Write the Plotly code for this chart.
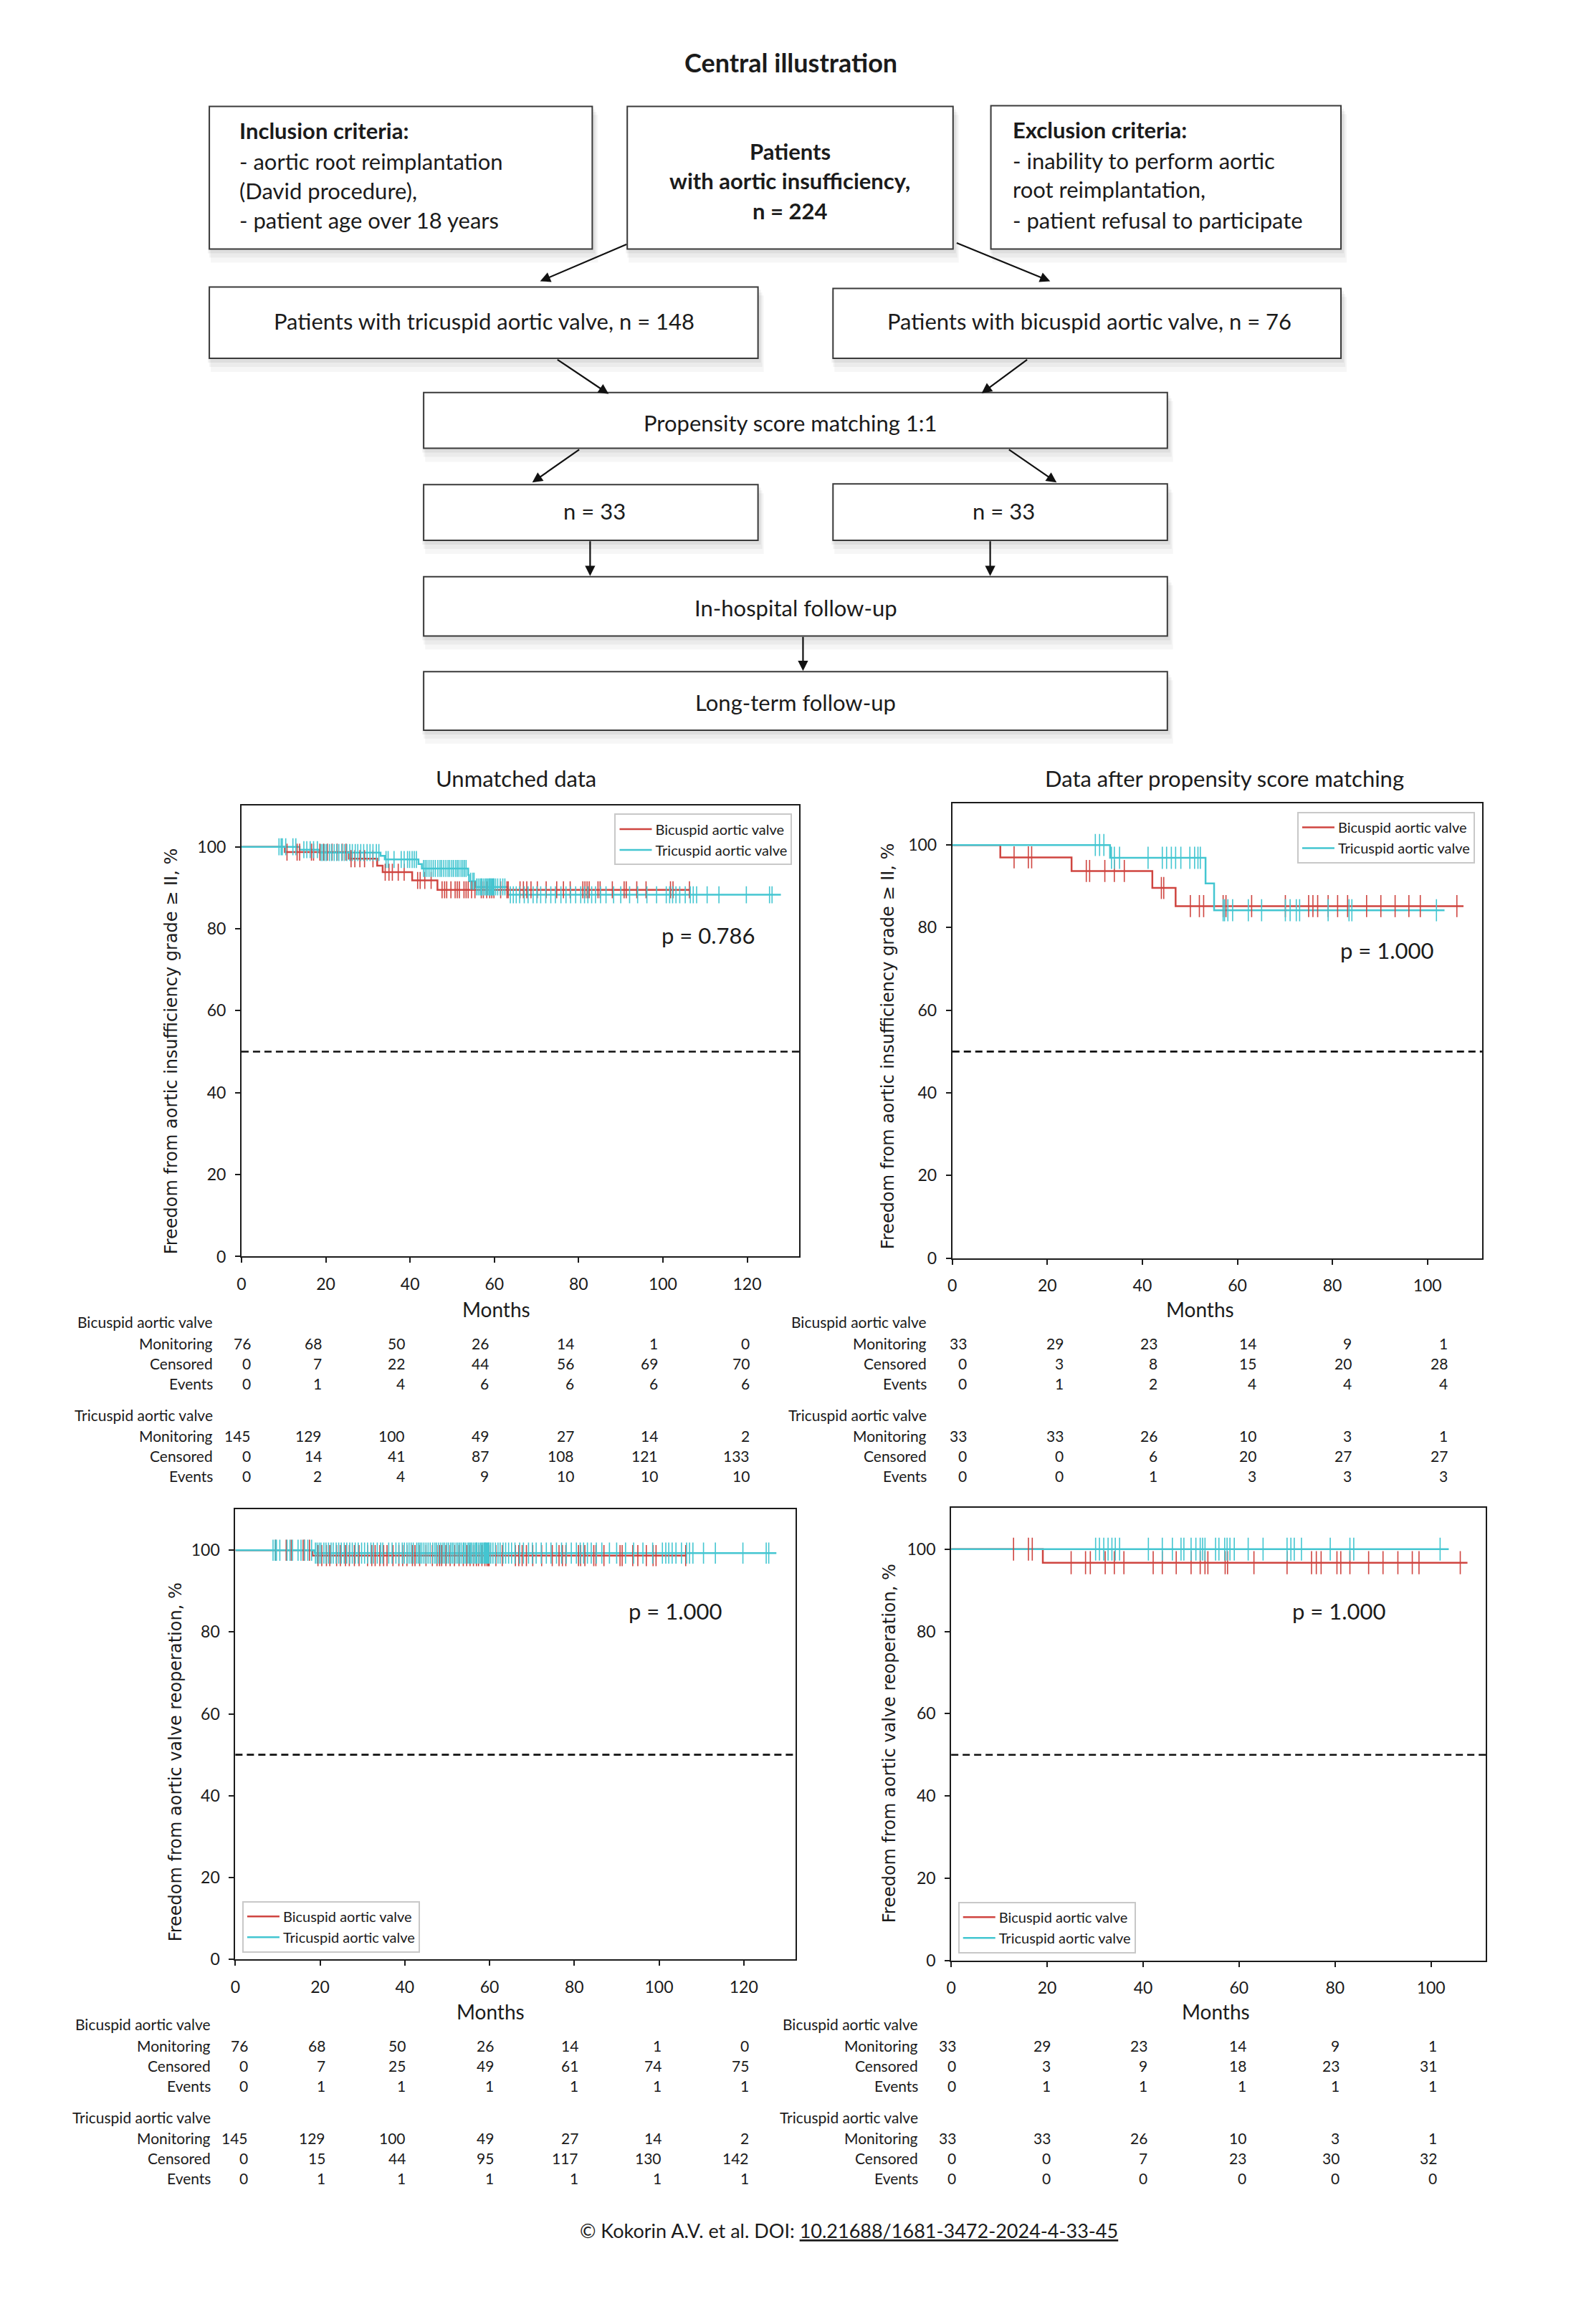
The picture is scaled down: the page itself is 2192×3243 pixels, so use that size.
import plotly.graph_objects as go

W, H = 2192, 3243
RED = "#cf4540"
CYAN = "#44c6d1"
INK = "#1b1b1b"
FONT = "Lato"
YFONT = "DejaVu Sans"

# ---------------- DATA ----------------
GROUPS = ["Bicuspid aortic valve", "Tricuspid aortic valve"]
ROW_LABELS = ["Monitoring", "Censored", "Events"]
Y_TICKS = [0, 20, 40, 60, 80, 100]
TICKS_UNMATCHED = [0, 20, 40, 60, 80, 100, 120]
TICKS_MATCHED = [0, 20, 40, 60, 80, 100]

# Panel A: unmatched, freedom from AI >= II
A_bic_times = [0, 10.3, 25.5, 32.2, 33.5, 40.5, 46.5]
A_bic_levels = [100, 98.7, 97.1, 95.4, 93.8, 91.8, 89.5]
A_bic_end = 106.5
A_bic_cens = [10.8, 13.2, 13.8, 16.6, 17.1, 18.6, 19.5,
              20.4, 21.5, 22.7, 23.9, 24.8, 26.0, 26.9, 28.1, 29.2, 31.2, 34.1, 35.0, 35.8, 37.2, 38.6,
              41.8, 42.4, 43.5, 45.0, 47.6, 48.2, 48.7, 49.7, 50.7, 51.2, 51.7, 52.8, 53.3, 53.8, 54.6,
              55.4, 56.9, 57.4, 58.2, 58.9, 59.4, 59.9,
              61.5, 63.0, 63.3, 66.1, 66.9, 67.7, 68.7, 70.2, 72.3, 74.8, 76.4, 78.0,
              81.0, 81.5, 82.0, 82.5, 84.6, 85.1, 88.0, 90.8, 91.3, 93.8, 96.0, 101.8, 102.4,
              106.3]
A_tri_times = [0, 13.8, 18.5, 33.0, 34.0, 42.0, 42.8, 53.8, 54.0, 55.5, 63.2]
A_tri_levels = [100, 99.3, 98.6, 97.8, 96.9, 95.8, 94.7, 93.1, 91.6, 90.2, 88.3]
A_tri_end = 128.0
A_tri_cens = [8.9, 9.4, 9.7, 10.5, 12.2, 12.9, 14.8, 15.5, 16.3, 17.1, 18.0, 18.9, 19.3, 19.8,
              20.2, 20.9, 21.4, 22.0, 22.6, 23.1, 23.8, 24.4, 25.0, 25.7, 26.3, 27.0, 27.6, 28.3,
              29.0, 29.8, 30.5, 31.2, 32.0, 32.6, 34.3, 34.8, 36.2, 37.9, 38.6, 39.4, 39.9,
              40.5, 41.0, 41.5, 43.2, 43.6, 44.0, 44.5, 45.0, 45.5, 46.0,
              46.6, 47.1, 47.5, 48.0, 48.5, 49.0, 49.4, 49.9, 50.3, 50.8,
              51.2, 51.6, 52.1, 52.5, 52.9, 53.3, 54.4, 54.9, 55.2, 55.8,
              56.2, 56.6, 56.9, 57.0, 57.4, 57.8, 58.1, 58.4, 58.7, 58.9,
              59.0, 59.2, 59.4, 59.6, 59.8, 59.9,
              60.3, 60.8, 61.4, 62.0, 62.5, 63.8, 64.5, 65.2, 66.0, 67.1, 68.0, 69.2, 70.1, 71.0,
              72.2, 73.4, 74.5, 75.8, 77.0, 78.1, 79.3,
              80.5, 81.4, 82.2, 83.1, 84.0, 85.2, 86.5, 88.3, 90.0, 92.1, 94.0, 96.2, 98.5,
              100.8, 101.6, 102.3, 103.1, 104.0, 105.3, 106.5, 107.2, 108.0, 110.5, 113.3, 119.8,
              125.3, 125.9]

# Panel B: matched, freedom from AI >= II
B_bic_times = [0, 10.1, 25.1, 42.1, 47.0]
B_bic_levels = [100, 97.0, 93.7, 89.6, 85.2]
B_bic_end = 107.6
B_bic_cens = [13.0, 16.0, 16.7, 28.2, 28.9, 32.1, 34.1, 36.2, 44.0, 44.5, 50.1, 52.0, 52.9,
              57.0, 57.6, 63.0, 70.1, 75.0, 75.9, 76.9, 79.1, 81.1, 83.2, 87.2, 90.2, 93.2,
              96.1, 98.5, 106.2]
B_tri_times = [0, 33.2, 53.3, 55.1]
B_tri_levels = [100, 96.9, 90.7, 84.2]
B_tri_end = 103.6
B_tri_cens = [30.1, 31.0, 31.9, 33.5, 34.1, 35.2, 41.2, 44.2, 45.1, 46.1, 47.0, 48.1, 50.0,
              51.0, 51.7, 52.2, 57.0, 57.3, 58.0, 59.0, 62.3, 65.1, 70.1, 71.1, 72.4, 73.1,
              79.1, 83.5, 84.1, 101.9]

# Panel C: unmatched, freedom from reoperation
C_bic_times = [0, 18.2]
C_bic_levels = [100, 98.7]
C_bic_end = 106.5
C_bic_cens = [9.5, 12.0, 13.2, 16.0, 16.3, 17.5, 19.5,
              20.4, 21.5, 22.3, 23.9, 24.8, 26.0, 26.9, 28.1, 29.2, 31.2, 32.2, 33.0, 34.1, 35.0,
              35.8, 37.2, 38.6, 39.5,
              40.5, 41.8, 42.4, 43.5, 45.0, 46.5, 47.6, 48.2, 48.7, 49.7, 50.7, 51.7, 52.8, 53.8,
              54.6, 55.4, 56.2, 56.9, 57.4, 58.2, 58.9, 59.4, 59.7, 59.9,
              61.5, 63.0, 66.1, 66.9, 67.7, 68.7, 70.2, 72.3, 74.8, 76.4, 77.2, 78.0,
              81.0, 81.5, 82.5, 84.6, 85.1, 87.0, 90.8, 91.3, 93.8, 95.0, 97.0, 98.6, 99.3,
              106.3]
C_tri_times = [0, 18.7]
C_tri_levels = [100, 99.3]
C_tri_end = 127.7
C_tri_cens = [8.9, 9.4, 9.7, 10.5, 12.2, 12.9, 13.5, 14.8, 15.5, 16.3, 17.1, 18.0, 18.9, 19.3, 19.8,
              20.2, 20.9, 21.4, 22.0, 22.6, 23.1, 23.8, 24.4, 25.0, 25.7, 26.3, 27.0, 27.6, 28.3,
              29.0, 29.8, 30.5, 31.2, 32.0, 32.6, 33.5, 34.3, 34.8, 36.2, 37.0, 37.9, 38.6, 39.4, 39.9,
              40.5, 41.0, 41.5, 42.0, 42.8, 43.2, 43.6, 44.0, 44.5, 45.0,
              45.5, 46.0, 46.6, 47.1, 47.5, 48.0, 48.5, 49.0, 49.4, 49.9,
              50.3, 50.8, 51.2, 51.6, 52.1, 52.5, 52.9, 53.3, 53.8, 54.0,
              54.4, 54.9, 55.2, 55.5, 55.8, 56.2, 56.6, 56.9, 57.0, 57.4,
              57.8, 58.1, 58.4, 58.7, 58.9, 59.0, 59.2, 59.4, 59.6, 59.8, 59.9,
              60.3, 60.8, 61.4, 62.0, 62.5, 63.2, 63.8, 64.5, 65.2, 66.0, 67.1, 68.0, 69.2, 70.1,
              71.0, 72.2, 73.4, 74.5, 75.8, 77.0, 78.1, 79.3,
              80.5, 81.4, 82.2, 83.1, 84.0, 85.2, 86.5, 88.3, 90.0, 92.1, 94.0, 96.2, 98.5,
              100.8, 101.6, 102.3, 103.1, 104.0, 105.3, 106.5, 107.2, 108.0, 110.5, 113.3, 119.8,
              125.3, 125.9]

# Panel D: matched, freedom from reoperation
D_bic_times = [0, 19.1]
D_bic_levels = [100, 96.7]
D_bic_end = 107.6
D_bic_cens = [13.0, 16.1, 16.9, 25.0, 28.0, 29.0, 32.1, 34.0, 36.0, 42.1, 44.0, 46.9, 50.0,
              51.9, 52.9, 53.5, 57.1, 57.6, 63.1, 70.0, 75.1, 76.1, 77.1, 80.4, 81.2, 83.1,
              87.0, 90.0, 93.1, 96.1, 97.5, 106.1]
D_tri_times = [0]
D_tri_levels = [100]
D_tri_end = 103.7
D_tri_cens = [30.1, 30.9, 31.8, 32.7, 33.5, 34.2, 35.1, 41.1, 44.0, 46.1, 47.9, 48.5, 50.0,
              51.0, 51.9, 52.4, 52.9, 55.1, 55.8, 57.0, 57.5, 58.1, 59.0, 61.9, 65.0, 70.0,
              70.8, 71.5, 73.0, 79.0, 83.1, 83.9, 101.9]

# Number-at-risk tables
A_bic_monitoring = [76, 68, 50, 26, 14, 1, 0]
A_bic_censored = [0, 7, 22, 44, 56, 69, 70]
A_bic_events = [0, 1, 4, 6, 6, 6, 6]
A_tri_monitoring = [145, 129, 100, 49, 27, 14, 2]
A_tri_censored = [0, 14, 41, 87, 108, 121, 133]
A_tri_events = [0, 2, 4, 9, 10, 10, 10]

B_bic_monitoring = [33, 29, 23, 14, 9, 1]
B_bic_censored = [0, 3, 8, 15, 20, 28]
B_bic_events = [0, 1, 2, 4, 4, 4]
B_tri_monitoring = [33, 33, 26, 10, 3, 1]
B_tri_censored = [0, 0, 6, 20, 27, 27]
B_tri_events = [0, 0, 1, 3, 3, 3]

C_bic_monitoring = [76, 68, 50, 26, 14, 1, 0]
C_bic_censored = [0, 7, 25, 49, 61, 74, 75]
C_bic_events = [0, 1, 1, 1, 1, 1, 1]
C_tri_monitoring = [145, 129, 100, 49, 27, 14, 2]
C_tri_censored = [0, 15, 44, 95, 117, 130, 142]
C_tri_events = [0, 1, 1, 1, 1, 1, 1]

D_bic_monitoring = [33, 29, 23, 14, 9, 1]
D_bic_censored = [0, 3, 9, 18, 23, 31]
D_bic_events = [0, 1, 1, 1, 1, 1]
D_tri_monitoring = [33, 33, 26, 10, 3, 1]
D_tri_censored = [0, 0, 7, 23, 30, 32]
D_tri_events = [0, 0, 0, 0, 0, 0]

P_VALUES = ["p = 0.786", "p = 1.000", "p = 1.000", "p = 1.000"]
PANEL_TITLES = ["Unmatched data", "Data after propensity score matching"]
Y_TITLES = ["Freedom from aortic insufficiency grade ≥ II, %",
            "Freedom from aortic insufficiency grade ≥ II, %",
            "Freedom from aortic valve reoperation, %",
            "Freedom from aortic valve reoperation, %"]


# ---------------- HELPERS ----------------
def px(x):
    return x / W


def py(y):
    return 1 - y / H


def level_at(times, levels, t):
    lv = levels[0]
    for ti, li in zip(times, levels):
        if t >= ti:
            lv = li
    return lv


fig = go.Figure()
shapes = []
ann = []


def add_text(x, y, text, size, xanchor="center", family=FONT, color=INK, yanchor="middle", **kw):
    ann.append(dict(x=px(x), y=py(y), xref="paper", yref="paper", text=text, showarrow=False,
                    xanchor=xanchor, yanchor=yanchor,
                    font=dict(family=family, size=size, color=color), **kw))


# ---------------- FLOWCHART ----------------
def add_box(b):
    x0, y0, x1, y1 = b
    for (a, b0, c, d, alpha) in [(-2, 4, 4, 6, 0.05), (0, 8, 6, 12, 0.045), (2, 12, 8, 19, 0.035)]:
        shapes.append(dict(type="rect", xref="paper", yref="paper",
                           x0=px(x0 + a), x1=px(x1 + c), y0=py(y0 + b0), y1=py(y1 + d),
                           fillcolor=f"rgba(0,0,0,{alpha})", line=dict(width=0), layer="below"))
    shapes.append(dict(type="rect", xref="paper", yref="paper",
                       x0=px(x0), x1=px(x1), y0=py(y0), y1=py(y1),
                       fillcolor="white", line=dict(color="#3a3a3a", width=2)))


def add_arrow(x0, y0, x1, y1):
    ann.append(dict(x=px(x1), y=py(y1), xref="paper", yref="paper", ax=x0 - x1, ay=y0 - y1,
                    axref="pixel", ayref="pixel", showarrow=True, arrowhead=2, arrowsize=1.3,
                    arrowwidth=2.2, arrowcolor="#111", text="", standoff=0))


boxes = [(286, 149, 822, 349), (871, 149, 1327, 349), (1380, 148, 1870, 349),
         (286, 402, 1054, 502), (1159, 404, 1870, 502), (586, 550, 1627, 628),
         (586, 679, 1054, 757), (1159, 678, 1627, 757), (586, 808, 1627, 891),
         (586, 941, 1627, 1023)]
for b in boxes:
    add_box(b)

for a in [(871, 342, 749, 394), (1331, 340, 1463, 394), (772, 503, 845, 552),
          (1432, 503, 1367, 551), (805, 629, 738, 676), (1404, 629, 1472, 676),
          (819, 757, 819, 807), (1379, 757, 1379, 807), (1117, 891, 1117, 940)]:
    add_arrow(*a)

add_text(1100, 87, "<b>Central illustration</b>", 36)
BT = 31
add_text(326, 183, "<b>Inclusion criteria:</b>", BT, xanchor="left")
add_text(326, 226, "- aortic root reimplantation", BT, xanchor="left")
add_text(326, 267, "(David procedure),", BT, xanchor="left")
add_text(326, 308, "- patient age over 18 years", BT, xanchor="left")
add_text(1099, 212, "<b>Patients</b>", BT)
add_text(1099, 253, "<b>with aortic insufficiency,</b>", BT)
add_text(1099, 295, "<b>n = 224</b>", BT)
add_text(1408, 182, "<b>Exclusion criteria:</b>", BT, xanchor="left")
add_text(1408, 225, "- inability to perform aortic", BT, xanchor="left")
add_text(1408, 265, "root reimplantation,", BT, xanchor="left")
add_text(1408, 308, "- patient refusal to participate", BT, xanchor="left")
add_text(671, 450, "Patients with tricuspid aortic valve, n = 148", BT)
add_text(1518, 450, "Patients with bicuspid aortic valve, n = 76", BT)
add_text(1100, 592, "Propensity score matching 1:1", BT)
add_text(825, 716, "n = 33", BT)
add_text(1398, 716, "n = 33", BT)
add_text(1107, 851, "In-hospital follow-up", BT)
add_text(1107, 984, "Long-term follow-up", BT)

# ---------------- KM PANELS ----------------
panels = [
    dict(box=(331, 1129, 1112, 1760.5), xmax=132.4, xt=TICKS_UNMATCHED,
         bic=(A_bic_times, A_bic_levels, A_bic_end, A_bic_cens),
         tri=(A_tri_times, A_tri_levels, A_tri_end, A_tri_cens), tsize=17,
         title=PANEL_TITLES[0], title_xy=(715, 1090), ytitle_xy=(233, 1473),
         months_xy=(688, 1834), p_xy=(110.8, 78.4),
         legend=dict(x=px(1102), y=py(1140), xanchor="right", yanchor="top"),
         risk=((A_bic_monitoring, A_bic_censored, A_bic_events),
               (A_tri_monitoring, A_tri_censored, A_tri_events)),
         label_x=293, ty0=1852, shifts=[15, -4, -5, -6, -4, -5, 5]),
    dict(box=(1326, 1126, 2067.5, 1762.6), xmax=111.5, xt=TICKS_MATCHED,
         bic=(B_bic_times, B_bic_levels, B_bic_end, B_bic_cens),
         tri=(B_tri_times, B_tri_levels, B_tri_end, B_tri_cens), tsize=22,
         title=PANEL_TITLES[1], title_xy=(1707, 1090), ytitle_xy=(1236, 1466),
         months_xy=(1673, 1834), p_xy=(91.4, 74.5),
         legend=dict(x=px(2057.5), y=py(1137.6), xanchor="right", yanchor="top"),
         risk=((B_bic_monitoring, B_bic_censored, B_bic_events),
               (B_tri_monitoring, B_tri_censored, B_tri_events)),
         label_x=1292, ty0=1852, shifts=[22, 25, 23, 28, 29, 30]),
    dict(box=(322.4, 2114.7, 1107, 2745), xmax=132.3, xt=TICKS_UNMATCHED,
         bic=(C_bic_times, C_bic_levels, C_bic_end, C_bic_cens),
         tri=(C_tri_times, C_tri_levels, C_tri_end, C_tri_cens), tsize=21,
         title=None, title_xy=None, ytitle_xy=(239, 2469),
         months_xy=(680, 2818), p_xy=(103.8, 85.2),
         legend=dict(x=px(332), y=py(2735.6), xanchor="left", yanchor="bottom"),
         risk=((C_bic_monitoring, C_bic_censored, C_bic_events),
               (C_tri_monitoring, C_tri_censored, C_tri_events)),
         label_x=290, ty0=2836, shifts=[20, 9, 3, 8, 8, 5, 9]),
    dict(box=(1324.4, 2112.8, 2072.6, 2746.8), xmax=111.4, xt=TICKS_MATCHED,
         bic=(D_bic_times, D_bic_levels, D_bic_end, D_bic_cens),
         tri=(D_tri_times, D_tri_levels, D_tri_end, D_tri_cens), tsize=23,
         title=None, title_xy=None, ytitle_xy=(1238, 2443),
         months_xy=(1695, 2818), p_xy=(80.8, 85.0),
         legend=dict(x=px(1334), y=py(2736.6), xanchor="left", yanchor="bottom"),
         risk=((D_bic_monitoring, D_bic_censored, D_bic_events),
               (D_tri_monitoring, D_tri_censored, D_tri_events)),
         label_x=1280, ty0=2836, shifts=[9, 7, 8, 12, 8, 10]),
]

layout_axes = {}
for i, p in enumerate(panels):
    n = "" if i == 0 else str(i + 1)
    xa, ya = "x" + n, "y" + n
    lg = "legend" + n
    x0, y0, x1, y1 = p["box"]
    for (times, levels, end, cens), name, col in [(p["bic"], GROUPS[0], RED), (p["tri"], GROUPS[1], CYAN)]:
        fig.add_trace(go.Scatter(x=list(times) + [end], y=list(levels) + [levels[-1]], mode="lines",
                                 line=dict(color=col, width=2.5, shape="hv"), name=name,
                                 xaxis=xa, yaxis=ya, legend=lg, showlegend=True, hoverinfo="skip"))
    for (times, levels, end, cens), name, col in [(p["bic"], GROUPS[0], RED), (p["tri"], GROUPS[1], CYAN)]:
        fig.add_trace(go.Scatter(x=cens, y=[level_at(times, levels, t) for t in cens], mode="markers",
                                 marker=dict(symbol="line-ns", size=p["tsize"],
                                             line=dict(color=col, width=1.6)),
                                 xaxis=xa, yaxis=ya, showlegend=False, hoverinfo="skip"))
    axis_common = dict(ticks="outside", ticklen=7, tickwidth=1.5, tickcolor=INK, showline=True,
                       linewidth=2, linecolor=INK, mirror=True, showgrid=False, zeroline=False,
                       tickfont=dict(family=FONT, size=23, color=INK))
    layout_axes["xaxis" + n] = dict(domain=[px(x0), px(x1)], range=[0, p["xmax"]], anchor=ya,
                                    tickvals=p["xt"], ticklabelstandoff=10, **axis_common)
    layout_axes["yaxis" + n] = dict(domain=[py(y1), py(y0)], range=[0, 110], anchor=xa,
                                    tickvals=Y_TICKS, ticklabelstandoff=8, **axis_common)
    layout_axes[lg] = dict(bgcolor="white", bordercolor="#c8c8c8", borderwidth=2,
                           font=dict(family=FONT, size=20, color=INK), itemwidth=45,
                           tracegroupgap=0, traceorder="normal", **p["legend"])
    # median reference line
    shapes.append(dict(type="line", xref=xa + " domain", yref=ya, x0=0, x1=1, y0=50, y1=50,
                       line=dict(color="#111", width=2.6, dash="10px,6px")))
    # texts
    if p["title"]:
        add_text(p["title_xy"][0], p["title_xy"][1], p["title"], 31)
    ann.append(dict(x=px(p["ytitle_xy"][0]), y=py(p["ytitle_xy"][1]), xref="paper", yref="paper",
                    text=Y_TITLES[i], textangle=-90, showarrow=False, xanchor="center",
                    yanchor="middle", font=dict(family=YFONT, size=24, color=INK)))
    add_text(p["months_xy"][0], p["months_xy"][1], "Months", 28)
    ann.append(dict(x=p["p_xy"][0], y=p["p_xy"][1], xref=xa, yref=ya, text=P_VALUES[i],
                    showarrow=False, xanchor="center", yanchor="middle",
                    font=dict(family=FONT, size=31, color=INK)))
    # number-at-risk table
    ty = p["ty0"]
    for g, gname in enumerate(GROUPS):
        gy = ty + g * 130
        add_text(p["label_x"], gy, gname, 21, xanchor="right")
        for r, rlabel in enumerate(ROW_LABELS):
            ry = gy + 30 + r * 28
            add_text(p["label_x"], ry, rlabel, 21, xanchor="right")
            for j, v in enumerate(p["risk"][g][r]):
                ann.append(dict(x=p["xt"][j], y=py(ry), xref=xa, yref="paper", text=str(v),
                                showarrow=False, xanchor="right", yanchor="middle",
                                xshift=p["shifts"][j],
                                font=dict(family=FONT, size=21, color=INK)))

# footer
add_text(1181, 3125, '© Kokorin A.V. et al. DOI: <span style="text-decoration:underline">'
         '10.21688/1681-3472-2024-4-33-45</span>', 27)

fig.update_layout(width=W, height=H, autosize=False, margin=dict(l=0, r=0, t=0, b=0),
                  paper_bgcolor="white", plot_bgcolor="white", shapes=shapes, annotations=ann,
                  showlegend=True, **layout_axes)

fig.write_html("out.html", config={"displayModeBar": False},
               post_script="document.body.style.margin='0px';")
